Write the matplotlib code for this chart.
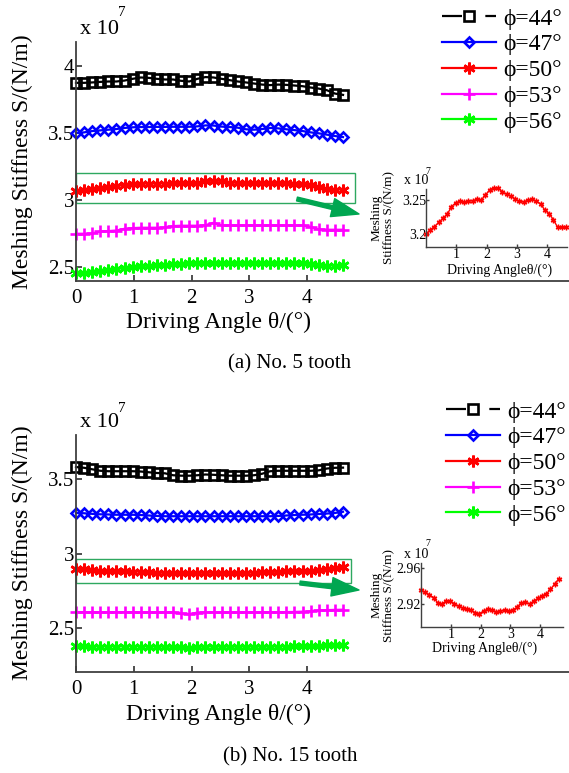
import numpy as np
import matplotlib
matplotlib.use('Agg')
import matplotlib.pyplot as plt
from matplotlib.lines import Line2D
from matplotlib.patches import Rectangle

plt.rcParams['font.family'] = ['Liberation Serif', 'DejaVu Serif']

# driving angle (deg)
angle = [0.00, 0.14, 0.28, 0.42, 0.56, 0.70, 0.84, 0.98, 1.12, 1.26, 1.40, 1.54,
         1.68, 1.82, 1.96, 2.10, 2.24, 2.38, 2.52, 2.66, 2.80, 2.94, 3.08, 3.22,
         3.36, 3.50, 3.64, 3.78, 3.92, 4.06, 4.20, 4.34, 4.48, 4.62]

labels = ['ϕ=44°', 'ϕ=47°', 'ϕ=50°', 'ϕ=53°', 'ϕ=56°']

# (a) No. 5 tooth, x 1e7 N/m
t5_44 = [3.875, 3.875, 3.878, 3.882, 3.885, 3.885, 3.892, 3.905, 3.915, 3.912, 3.905, 3.900,
         3.900, 3.890, 3.885, 3.905, 3.918, 3.915, 3.905, 3.895, 3.885, 3.878, 3.870, 3.862,
         3.858, 3.862, 3.860, 3.855, 3.850, 3.840, 3.832, 3.820, 3.795, 3.785]
t5_47 = [3.500, 3.505, 3.515, 3.520, 3.525, 3.530, 3.538, 3.543, 3.545, 3.545, 3.546, 3.546,
         3.547, 3.547, 3.547, 3.550, 3.557, 3.556, 3.548, 3.545, 3.540, 3.528, 3.525, 3.530,
         3.538, 3.535, 3.528, 3.522, 3.515, 3.505, 3.498, 3.488, 3.478, 3.470]
t5_50 = [3.068, 3.075, 3.085, 3.090, 3.098, 3.105, 3.112, 3.118, 3.122, 3.122, 3.123, 3.122,
         3.124, 3.126, 3.125, 3.130, 3.140, 3.145, 3.142, 3.130, 3.128, 3.127, 3.127, 3.126,
         3.128, 3.128, 3.127, 3.122, 3.118, 3.110, 3.098, 3.085, 3.078, 3.078]
t5_53 = [2.748, 2.748, 2.750, 2.765, 2.768, 2.772, 2.785, 2.790, 2.793, 2.793, 2.793, 2.795,
         2.805, 2.808, 2.808, 2.808, 2.812, 2.830, 2.810, 2.810, 2.810, 2.810, 2.810, 2.810,
         2.810, 2.810, 2.810, 2.810, 2.810, 2.800, 2.780, 2.778, 2.778, 2.778]
t5_56 = [2.452, 2.458, 2.465, 2.472, 2.480, 2.486, 2.492, 2.500, 2.506, 2.510, 2.512, 2.516,
         2.520, 2.522, 2.528, 2.530, 2.530, 2.530, 2.530, 2.530, 2.530, 2.530, 2.530, 2.530,
         2.530, 2.530, 2.530, 2.528, 2.526, 2.520, 2.512, 2.510, 2.510, 2.512]
t5_zoom = [3.200, 3.206, 3.211, 3.217, 3.223, 3.229, 3.240, 3.246, 3.248, 3.247, 3.248, 3.249,
           3.251, 3.250, 3.257, 3.265, 3.268, 3.267, 3.262, 3.258, 3.256, 3.251, 3.248, 3.247,
           3.250, 3.251, 3.248, 3.244, 3.235, 3.230, 3.221, 3.210, 3.210, 3.210]

# (b) No. 15 tooth
t15_44 = [3.580, 3.575, 3.565, 3.555, 3.552, 3.552, 3.552, 3.552, 3.550, 3.545, 3.540, 3.538,
          3.525, 3.522, 3.522, 3.525, 3.530, 3.528, 3.525, 3.522, 3.522, 3.522, 3.525, 3.535,
          3.552, 3.555, 3.555, 3.555, 3.555, 3.555, 3.558, 3.570, 3.575, 3.576]
t15_47 = [3.272, 3.270, 3.266, 3.263, 3.262, 3.260, 3.260, 3.260, 3.258, 3.255, 3.252, 3.250,
          3.250, 3.250, 3.250, 3.250, 3.250, 3.250, 3.250, 3.250, 3.250, 3.250, 3.250, 3.250,
          3.250, 3.252, 3.255, 3.258, 3.260, 3.262, 3.265, 3.268, 3.272, 3.280]
t15_50 = [2.896, 2.894, 2.890, 2.882, 2.880, 2.880, 2.880, 2.879, 2.878, 2.875, 2.872, 2.870,
          2.870, 2.869, 2.868, 2.870, 2.871, 2.870, 2.870, 2.870, 2.869, 2.870, 2.872, 2.874,
          2.876, 2.878, 2.880, 2.880, 2.880, 2.882, 2.888, 2.895, 2.900, 2.908]
t15_53 = [2.607, 2.607, 2.606, 2.606, 2.606, 2.606, 2.606, 2.606, 2.605, 2.605, 2.605, 2.605,
          2.605, 2.598, 2.592, 2.604, 2.605, 2.605, 2.605, 2.605, 2.605, 2.605, 2.605, 2.606,
          2.606, 2.606, 2.607, 2.608, 2.610, 2.612, 2.618, 2.620, 2.622, 2.623]
t15_56 = [2.378, 2.377, 2.376, 2.376, 2.376, 2.376, 2.376, 2.376, 2.376, 2.376, 2.375, 2.375,
          2.374, 2.370, 2.368, 2.374, 2.375, 2.375, 2.375, 2.375, 2.375, 2.375, 2.375, 2.375,
          2.375, 2.376, 2.376, 2.377, 2.377, 2.378, 2.380, 2.383, 2.386, 2.388]
t15_zoom = [2.935, 2.933, 2.930, 2.927, 2.921, 2.920, 2.923, 2.923, 2.920, 2.917, 2.9155, 2.914,
            2.9125, 2.910, 2.909, 2.912, 2.914, 2.913, 2.911, 2.912, 2.9125, 2.912, 2.913, 2.916,
            2.921, 2.9215, 2.920, 2.923, 2.926, 2.929, 2.931, 2.936, 2.942, 2.948]

colors = ['black', 'blue', 'red', 'magenta', '#00ff00']
markers = ['s', 'D', (6, 2, 0), '+', (6, 2, 0)]
msizes = [7, 5, 8.5, 9, 8.5]
AX_C = '#404040'
BOX_C = '#2ea860'
ARROW_C = '#00a651'

W, H = 569, 773
fig = plt.figure(figsize=(W / 100, H / 100), dpi=100)


def fx(x):
    return x / W


def fy(y):
    return 1 - y / H


def style_axes(ax, size, pad_x, pad_y, lw):
    for s in ['top', 'right']:
        ax.spines[s].set_visible(False)
    for s in ['left', 'bottom']:
        ax.spines[s].set_color(AX_C)
        ax.spines[s].set_linewidth(lw)
    ax.tick_params(direction='in', colors=AX_C, labelcolor='black', labelsize=size, width=lw)
    ax.tick_params(axis='x', pad=pad_x)
    ax.tick_params(axis='y', pad=pad_y)


def main_panel(top, bottom, series, ylim, yticks, box, arrow):
    ax = fig.add_axes([fx(76), fy(bottom), 1 - fx(76), (bottom - top) / H])
    for vals, c, m, ms in zip(series, colors, markers, msizes):
        ax.plot(angle, vals, color=c, marker=m, ms=ms, mfc='none', mew=1.9, lw=1.6,
                clip_on=False)
    ax.set_xlim(0, 8.53)
    ax.set_ylim(*ylim)
    ax.set_xticks([0, 1, 2, 3, 4])
    ax.set_yticks(yticks)
    ax.set_yticklabels([('%g' % t) for t in yticks])
    style_axes(ax, 15, 6, 1, 1.3)
    ax.tick_params(length=4)
    ax.add_patch(Rectangle((box[0], box[1]), box[2] - box[0], box[3] - box[1],
                           fill=False, ec=BOX_C, lw=1.0, clip_on=False))
    ax.annotate('', xy=(arrow[2], H - arrow[3]), xytext=(arrow[0], H - arrow[1]),
                xycoords='figure pixels', textcoords='figure pixels',
                arrowprops=dict(arrowstyle='simple,head_width=0.95,head_length=1.4,tail_width=0.2',
                                color=ARROW_C, mutation_scale=14, shrinkA=0, shrinkB=0))
    return ax


def inset(left, top, right, bottom, vals, xlim, ylim, yticks):
    ins = fig.add_axes([fx(left), fy(bottom), (right - left) / W, (bottom - top) / H])
    ins.plot(angle, vals, color='red', marker=(6, 2, 0), ms=4, mew=1.0, lw=1.0, clip_on=False)
    ins.set_xlim(*xlim)
    ins.set_ylim(*ylim)
    ins.set_xticks([1, 2, 3, 4])
    ins.set_yticks(yticks)
    ins.set_yticklabels([('%g' % t) for t in yticks])
    style_axes(ins, 10, 1, 0, 1.0)
    ins.tick_params(length=2.5)
    ins.patch.set_alpha(0)
    return ins


# ---- (a) No. 5 tooth ----
main_panel(42, 281, [t5_44, t5_47, t5_50, t5_53, t5_56], (2.395, 4.18), [2.5, 3, 3.5, 4],
           (0, 2.978, 4.83, 3.2), (297, 199, 359, 214))
inset(426, 189, 567, 247, t5_zoom, (0, 4.65), (3.181, 3.266), [3.2, 3.25])

# ---- (b) No. 15 tooth ----
main_panel(435, 672, [t15_44, t15_47, t15_50, t15_53, t15_56], (2.205, 3.795), [2.5, 3, 3.5],
           (0, 2.80, 4.76, 2.966), (300, 583, 359, 590))
inset(421, 563, 563, 627, t15_zoom, (0, 4.76), (2.894, 2.9656), [2.92, 2.96])

# axis labels, multipliers, captions
for yc, xl_y, mul_y, sup_y, cap_y, cap in [(162, 322, 30, 12, 364, '(a) No. 5 tooth'),
                                         (553, 714, 423, 408, 757, '(b) No. 15 tooth')]:
    fig.text(fx(22), fy(yc), 'Meshing Stiffness S/(N/m)', rotation=90, ha='center',
             va='center', fontsize=17)
    fig.text(fx(218), fy(xl_y), 'Driving Angle θ/(°)', ha='center', va='center', fontsize=17)
    fig.text(fx(80), fy(mul_y), 'x 10', ha='left', va='center', fontsize=16)
    fig.text(fx(118), fy(sup_y), '7', ha='left', va='center', fontsize=11)
    fig.text(fx(290), fy(cap_y), cap, ha='center', va='center', fontsize=15)

for yc, xl_x, xl_y, mul_y, sup_y in [(218, 500, 270, 181, 171), (595, 485, 648, 554, 544)]:
    fig.text(fx(383), fy(yc), 'Meshing\nStiffness S/(N/m)', rotation=90, ha='center',
             va='center', fontsize=9.5, multialignment='center', linespacing=1.0)
    fig.text(fx(xl_x), fy(xl_y), 'Driving Angleθ/(°)', ha='center', va='center', fontsize=10)
    fig.text(fx(404), fy(mul_y), 'x 10', ha='left', va='center', fontsize=10)
    fig.text(fx(425), fy(sup_y), '7', ha='left', va='center', fontsize=7)

# legends
handles = [Line2D([], [], color='black', marker='s', ms=7, mfc='none', mew=1.9, lw=1.6,
                  linestyle=(0, (9, 10.5, 5.5, 20)))]
for c, m, ms in zip(colors[1:], markers[1:], msizes[1:]):
    handles.append(Line2D([], [], color=c, marker=m, ms=ms, mfc='none', mew=1.9, lw=1.6))

for lx, ly in [(442, 8), (446, 401)]:
    fig.legend(handles, labels, loc='upper left', bbox_to_anchor=(fx(lx), fy(ly)),
               frameon=False, fontsize=17, handlelength=2.3, handletextpad=0.3,
               labelspacing=0.18, borderpad=0, borderaxespad=0, markerscale=1.0)

fig.savefig('out.png', dpi=100)
